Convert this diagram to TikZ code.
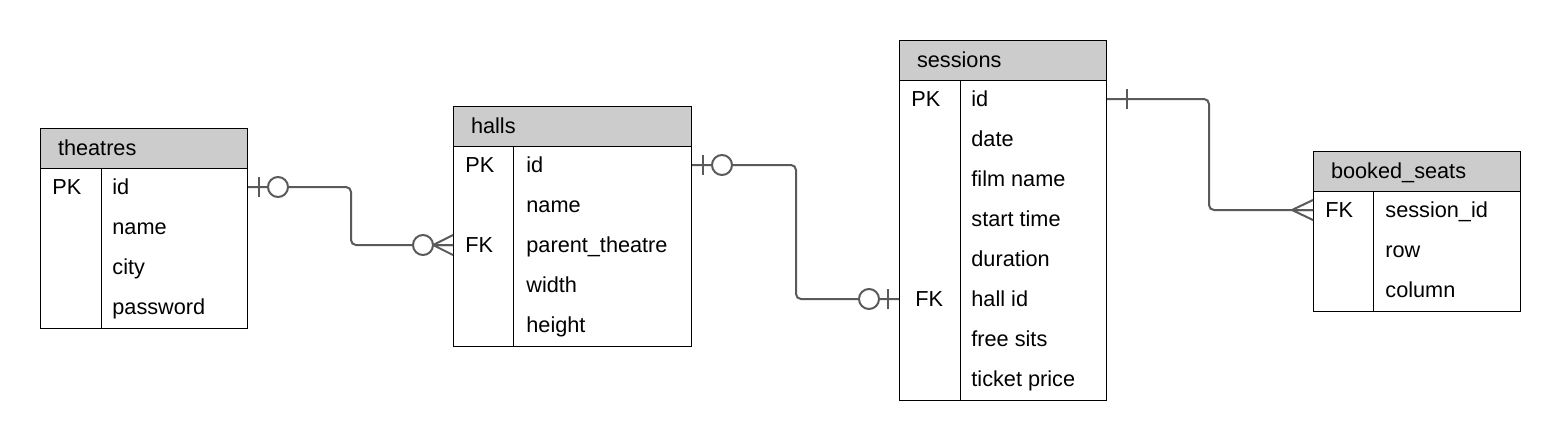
\documentclass[tikz,border=0pt]{standalone}
\usepackage{fontspec}
\setmainfont{Liberation Sans}
\definecolor{relgray}  {RGB}{90,90,90}
\definecolor{headgray} {RGB}{204,204,204}
\tikzset{
    tblframe/.style={draw=black, line width=0.5pt, anchor=north west, inner sep=0pt},
    tblhead/.style={draw=black, line width=0.5pt, fill=headgray, anchor=north west,
             minimum height=20pt, inner xsep=8.75pt, inner ysep=0pt,
             text height=8pt, text depth=1pt, align=left},
    field/.style={anchor=west, inner sep=0pt, text height=8pt, text depth=1pt},
    rel/.style={draw=relgray, line width=1pt},
    barzero/.pic={\draw[rel] (11,-10) -- (11,10);
             \draw[rel,fill=white] (30,0) circle (5pt);},
    crowzero/.pic={\draw[rel] (0,-10) -- (20,0) -- (0,10) (0,0) -- (20,0);
             \draw[rel,fill=white] (30,0) circle (5pt);},
    bar/.pic={\draw[rel] (20,-10) -- (20,10);},
    crow/.pic={\draw[rel] (0,-10) -- (21,0) -- (0,10) (0,0) -- (21,0);}
  }
\begin{document}
\begin{tikzpicture}[x=0.5pt, y=-0.5pt,
             font=\fontsize{10.85pt}{13pt}\selectfont
     ]
 \useasboundingbox (0,0) rectangle (1560,440);
 %theatres
     \node[tblframe, minimum width=103.5pt, minimum height=100pt] (theatres) at (40,128) {};
     \node[tblhead, text width=86pt] (theatres-head) at (theatres.north west) {theatres};
     \draw ([xshift=30.5pt]theatres-head.south west) -- ([xshift=30.5pt]theatres.south west);
     \node[field] (theatres-pk) at (52,187) {PK};
     \foreach \f [count=\i] in {id,name,city,password}
         \node[field] (theatres-\i) at (112,{147+40*\i}) {\f};
 %halls
     \node[tblframe, minimum width=119pt, minimum height=120pt] (halls) at (453,106) {};
     \node[tblhead, text width=101.5pt] (halls-head) at (halls.north west) {halls};
     \draw ([xshift=30.25pt]halls-head.south west) -- ([xshift=30.25pt]halls.south west);
     \node[field] (halls-pk) at (465,165) {PK};
     \node[field] (halls-fk) at (465,245) {FK};
     \foreach \f [count=\i] in {id,name,parent\_theatre,width,height}
         \node[field] (halls-\i) at (526,{125+40*\i}) {\f};
 %sessions
     \node[tblframe, minimum width=103.5pt, minimum height=180pt] (sessions) at (899,40) {};
     \node[tblhead, text width=86pt] (sessions-head) at (sessions.north west) {sessions};
     \draw ([xshift=30.5pt]sessions-head.south west) -- ([xshift=30.5pt]sessions.south west);
     \node[field] (sessions-pk) at (911,99) {PK};
     \node[field] (sessions-fk) at (915,299) {FK};
     \foreach \f [count=\i] in {id,date,film name,start time,duration,hall id,free sits,ticket price}
         \node[field] (sessions-\i) at (971,{59+40*\i}) {\f};
 %booked_seats
     \node[tblframe, minimum width=103.5pt, minimum height=80pt] (booked) at (1313,151) {};
     \node[tblhead, text width=86pt] (booked-head) at (booked.north west) {booked\_seats};
     \draw ([xshift=30.25pt]booked-head.south west) -- ([xshift=30.25pt]booked.south west);
     \node[field] (booked-fk) at (1325,210) {FK};
     \foreach \f [count=\i] in {session\_id,row,column}
         \node[field] (booked-\i) at (1385,{170+40*\i}) {\f};
 %theatres -- halls
     \draw[rel, rounded corners=2.5pt] (theatres.east |- theatres-1) -- ++(103,0) |- (halls.west |- halls-3);
     \pic at (theatres.east |- theatres-1) {barzero};
     \pic[xscale=-1] at (halls.west |- halls-3) {crowzero};
 %halls -- sessions
     \draw[rel, rounded corners=2.5pt] (halls.east |- halls-1) -- ++(104,0) |- (sessions.west |- sessions-6);
     \pic at (halls.east |- halls-1) {barzero};
     \pic[xscale=-1] at (sessions.west |- sessions-6) {barzero};
 %sessions -- booked_seats
     \draw[rel, rounded corners=2.5pt] (sessions.east |- sessions-1) -- ++(102,0) |- (booked.west |- booked-1);
     \pic at (sessions.east |- sessions-1) {bar};
     \pic[xscale=-1] at (booked.west |- booked-1) {crow};
 \end{tikzpicture}
\end{document}
